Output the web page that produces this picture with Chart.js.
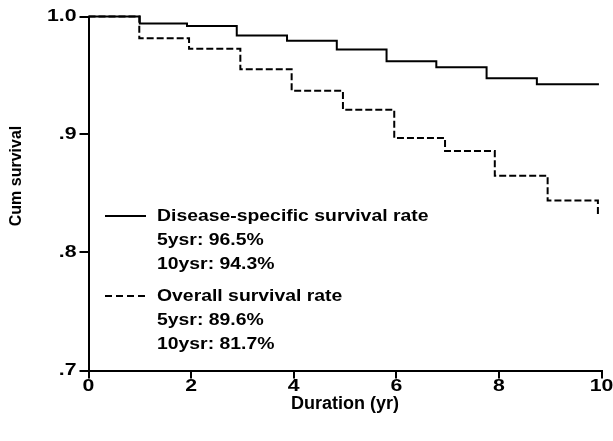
<!DOCTYPE html>
<html>
<head>
<meta charset="utf-8">
<script src="https://cdn.jsdelivr.net/npm/chart.js@4"></script>
<style>
  html, body { margin: 0; padding: 0; background: #fff; }
  #wrap { width: 613px; height: 441px; }
</style>
</head>
<body>
<div id="wrap"><canvas id="chart" width="613" height="441"></canvas></div>
<script>
// données
const dssTimes = [0, 1.0, 1.92, 2.89, 3.87, 4.84, 5.81, 6.78, 7.76, 8.74, 9.95];
const dssSurv = [1.0, 0.994, 0.992, 0.984, 0.9795, 0.972, 0.962, 0.957, 0.9476, 0.9425, 0.9425];
const osTimes = [0, 0.99, 1.96, 2.96, 3.96, 4.96, 5.96, 6.95, 7.92, 8.95, 9.93];
const osSurv = [1.0, 0.9815, 0.9727, 0.9553, 0.937, 0.921, 0.897, 0.886, 0.865, 0.844, 0.832];
const yTickValues = [0.7, 0.8, 0.9, 1.0];
const yTickLabels = ['.7', '.8', '.9', '1.0'];
const xTickValues = [0, 2, 4, 6, 8, 10];
const xTickLabels = ['0', '2', '4', '6', '8', '10'];
const legendGroups = [
  { dash: [], lines: ['Disease-specific survival rate', '5ysr: 96.5%', '10ysr: 94.3%'] },
  { dash: [7, 4], lines: ['Overall survival rate', '5ysr: 89.6%', '10ysr: 81.7%'] }
];
const xTitle = 'Duration (yr)';
const yTitle = 'Cum survival';

const FONT = '"Liberation Sans", Arial, sans-serif';

// texte un peu élargi comme sur l'original
function wideText(ctx, txt, x, y, align, sx) {
  ctx.save();
  ctx.translate(x, y);
  ctx.scale(sx, 1);
  ctx.textAlign = align;
  ctx.fillText(txt, 0, 0);
  ctx.restore();
}

// légende, étiquettes des graduations et titre vertical
const annotations = {
  id: 'annotations',
  afterDraw(chart) {
    const ctx = chart.ctx;
    const xs = chart.scales.x;
    const ys = chart.scales.y;
    ctx.save();
    ctx.fillStyle = '#000';
    ctx.strokeStyle = '#000';
    ctx.textBaseline = 'middle';

    // graduations
    ctx.font = 'bold 17px ' + FONT;
    xTickValues.forEach((v, i) => {
      wideText(ctx, xTickLabels[i], xs.getPixelForValue(v), xs.top + 16, 'center', 1.25);
    });
    yTickValues.forEach((v, i) => {
      wideText(ctx, yTickLabels[i], ys.right - 12, ys.getPixelForValue(v), 'right', 1.25);
    });

    // légende
    let y = 216;
    legendGroups.forEach(g => {
      ctx.lineWidth = 2;
      ctx.setLineDash(g.dash);
      ctx.beginPath();
      ctx.moveTo(105, y);
      ctx.lineTo(146, y);
      ctx.stroke();
      ctx.setLineDash([]);
      g.lines.forEach((txt, i) => wideText(ctx, txt, 157, y + i * 24, 'left', 1.14));
      y += 80;
    });

    // titre axe Y
    ctx.font = 'bold 16px ' + FONT;
    ctx.save();
    ctx.translate(17, 176);
    ctx.rotate(-Math.PI / 2);
    ctx.textAlign = 'center';
    ctx.fillText(yTitle, 0, 0);
    ctx.restore();
    ctx.restore();
  }
};

new Chart(document.getElementById('chart'), {
  type: 'line',
  data: {
    datasets: [
      {
        label: 'Disease-specific',
        data: dssTimes.map((t, i) => ({ x: t, y: dssSurv[i] })),
        borderColor: '#000',
        borderWidth: 2,
        stepped: true,
        pointRadius: 0,
        fill: false,
        clip: false
      },
      {
        label: 'Overall',
        data: osTimes.map((t, i) => ({ x: t, y: osSurv[i] })),
        borderColor: '#000',
        borderWidth: 2,
        borderDash: [7, 3],
        stepped: true,
        pointRadius: 0,
        fill: false,
        clip: false
      }
    ]
  },
  options: {
    responsive: false,
    animation: false,
    layout: { padding: { left: 0, right: 11.5, top: 16.5, bottom: 0 } },
    plugins: { legend: { display: false }, tooltip: { enabled: false } },
    scales: {
      x: {
        type: 'linear',
        min: 0,
        max: 10,
        afterFit: s => { s.height = 70.5; },
        afterBuildTicks: s => { s.ticks = xTickValues.map(v => ({ value: v })); },
        ticks: { display: false },
        grid: { drawOnChartArea: false, drawTicks: true, tickLength: 8, color: '#000', lineWidth: 2 },
        border: { display: true, color: '#000', width: 2 },
        title: { display: true, text: xTitle, color: '#000', font: { family: FONT, size: 18, weight: 'bold' }, padding: { top: 0, bottom: 26 } }
      },
      y: {
        min: 0.7,
        max: 1.0,
        afterFit: s => { s.width = 88.5; },
        afterBuildTicks: s => { s.ticks = yTickValues.map(v => ({ value: v })); },
        ticks: { display: false },
        grid: { drawOnChartArea: false, drawTicks: true, tickLength: 9, color: '#000', lineWidth: 2 },
        border: { display: true, color: '#000', width: 2 }
      }
    }
  },
  plugins: [annotations]
});
</script>
</body>
</html>
